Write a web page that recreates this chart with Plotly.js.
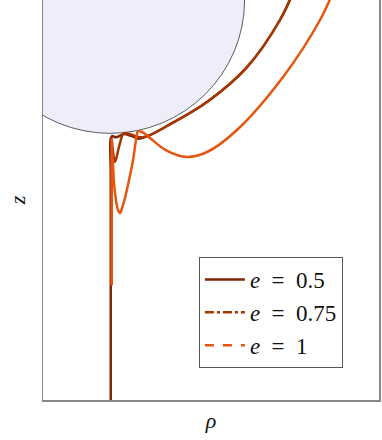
<!DOCTYPE html>
<html>
<head>
<meta charset="utf-8">
<script src="https://cdn.plot.ly/plotly-3.0.1.min.js"></script>
</head>
<body style="margin:0">
<div id="plot"></div>
<script>
// trajectories near the sphere (rho, z)
const rho_05 = [1.384, 1.263, 1.018, 0.720, 0.423, 0.296, 0.25, 0.21, 0.17, 0.13, 0.10, 0.07, 0.04, 0.015, 0.004, 0.004, 0.004];
const z_05   = [0.113, -0.15, -0.503, -0.765, -0.945, -1.013, -1.03, -1.04, -1.025, -1.01, -1.006, -1.02, -1.03, -1.02, -1.04, -1.3, -3.05];

const rho_075 = [1.384, 1.263, 1.018, 0.720, 0.423, 0.296, 0.24, 0.2, 0.16, 0.12, 0.10, 0.066, 0.036, 0.021, 0.01, 0.008, 0.008];
const z_075   = [0.113, -0.15, -0.503, -0.765, -0.945, -1.013, -1.03, -1.025, -1.01, -1.0, -1.0, -1.10, -1.215, -1.14, -1.035, -1.3, -2.14];

const rho_1 = [1.68, 1.561, 1.286, 0.943, 0.721, 0.571, 0.42, 0.296, 0.237, 0.207, 0.192, 0.170, 0.140, 0.110, 0.088, 0.073, 0.058, 0.043, 0.028, 0.021, 0.013, 0.012, 0.012, 0.012];
const z_1   = [0.113, -0.15, -0.5775, -0.975, -1.14, -1.1775, -1.13, -1.035, -0.99, -0.985, -1.05, -1.2, -1.35, -1.485, -1.56, -1.5975, -1.575, -1.5, -1.365, -1.2375, -1.125, -1.05, -1.5, -2.14];

const labels = ['<i>e</i>\u00a0\u00a0=\u00a0\u00a00.5', '<i>e</i>\u00a0\u00a0=\u00a0\u00a00.75', '<i>e</i>\u00a0\u00a0=\u00a0\u00a01'];
const colors = ['#7f2704', '#a63603', '#e6550d'];
const dashes = ['solid', 'dashdot', 'dash'];

// sphere
const sphereR = 1;
const sphereZ = 0;

const curves = [[rho_05, z_05], [rho_075, z_075], [rho_1, z_1]];

const traces = [];
curves.forEach((c, i) => {
    traces.push({
        x: c[0], y: c[1],
        mode: 'lines',
        line: { color: colors[i], width: 2.5, shape: 'spline', smoothing: 1 },
        showlegend: false
    });
});
// legend entries
labels.forEach((name, i) => {
    traces.push({
        x: [null], y: [null],
        mode: 'lines',
        name: name,
        line: { color: colors[i], width: 2.5, dash: dashes[i] }
    });
});

const layout = {
    width: 382,
    height: 440,
    margin: { l: 43, r: 3, t: 0, b: 40 },
    showlegend: true,
    font: { family: 'Liberation Serif', size: 22, color: '#111' },
    xaxis: {
        range: [-0.5, 2.0],
        showgrid: false, zeroline: false, ticks: '', showticklabels: false,
        showline: true, linecolor: '#888', linewidth: 1.5,
        title: { text: '<i>ρ</i>', font: { family: 'Liberation Serif', size: 22 }, standoff: 12 }
    },
    yaxis: {
        range: [-3, 0],
        showgrid: false, zeroline: false, ticks: '', showticklabels: false,
        showline: true, mirror: true, linecolor: '#888', linewidth: 1.5,
        title: { text: '<i>z</i>', font: { family: 'Liberation Serif', size: 22 }, standoff: 10 }
    },
    shapes: [{
        type: 'circle', xref: 'x', yref: 'y', layer: 'below',
        x0: -sphereR, x1: sphereR, y0: sphereZ - sphereR, y1: sphereZ + sphereR,
        fillcolor: '#eeeefb',
        line: { color: '#333', width: 0.8 }
    }],
    legend: {
        x: 0.464, y: 0.3575, xanchor: 'left', yanchor: 'top',
        bgcolor: '#fff', bordercolor: '#555', borderwidth: 1,
        itemwidth: 40,
        font: { family: 'Liberation Serif', size: 23, color: '#111' }
    }
};

Plotly.newPlot('plot', traces, layout, { staticPlot: true });
</script>
</body>
</html>
